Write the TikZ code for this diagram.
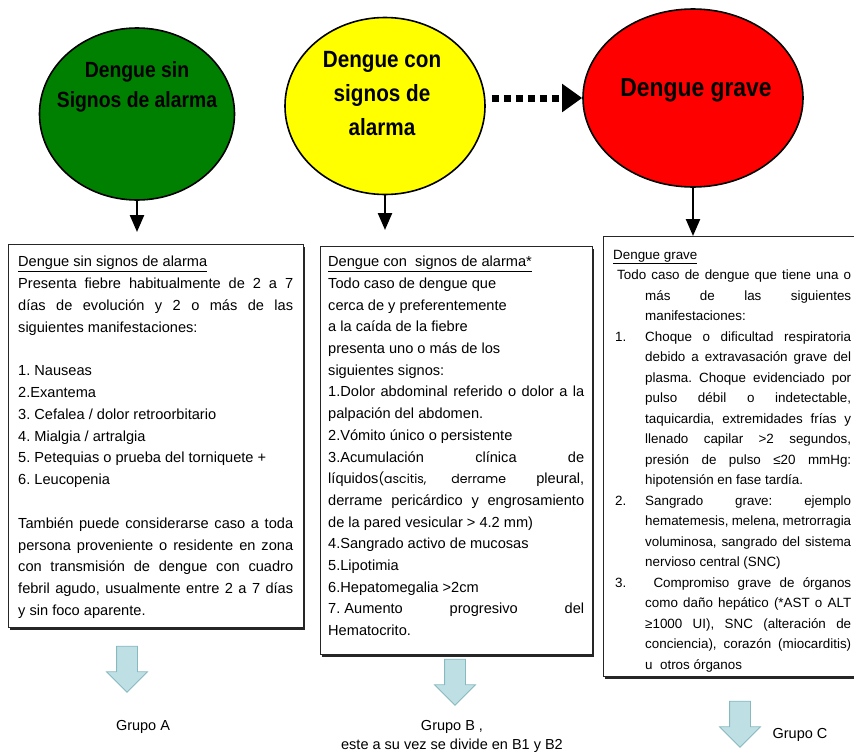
\documentclass[tikz,border=0pt]{standalone}
\usepackage{fontspec}
\setmainfont{Liberation Sans}
\newfontfamily\ovalfont[FakeStretch=0.88]{Liberation Sans}
\newfontfamily\gothfont{Poppins}
\usetikzlibrary{arrows.meta,shapes,shapes.arrows,shadows,calc}
\definecolor{semgreen}{RGB}{0,128,0}
\definecolor{semyellow}{RGB}{255,255,0}
\definecolor{semred}{RGB}{255,0,0}
\definecolor{arrowfill}{RGB}{190,224,228}
\definecolor{arrowedge}{RGB}{135,185,192}
\tikzstyle{oval}=[ellipse,draw=black,line width=1.6pt,inner sep=0pt]
\tikzstyle{ovaltext}=[align=center,inner sep=0pt]
\tikzstyle{panel}=[draw=black!85,line width=1.4pt,fill=white,anchor=north west,
    drop shadow={shadow xshift=1.5pt,shadow yshift=-2pt,fill=black!85,opacity=1}]
\tikzstyle{paneltext}=[anchor=north west,inner sep=0pt,align=justify]
\tikzstyle{down} = [draw,line width=2.4pt,-{Triangle[width=14pt,length=17pt]}]
\tikzstyle{dotarrow} = [draw,line width=7pt,dash pattern=on 7pt off 5pt,
    -{Triangle[width=27pt,length=20pt]}]
\tikzstyle{grparrow}=[single arrow,rotate=-90,draw=arrowedge,fill=arrowfill,
    line width=0.8pt,minimum height=46pt,single arrow head extend=10pt,inner sep=10pt]
\tikzstyle{grplabel}=[align=center,inner sep=0pt,font=\fontsize{14.5}{19}\selectfont]
\newcommand{\paneltxt}[2]{\fontsize{#1}{#2}\selectfont\setlength\parindent{0pt}%
    \frenchspacing\hyphenpenalty=10000\exhyphenpenalty=10000}

\begin{document}
\begin{tikzpicture}[x=1pt,y=-1pt]
    \useasboundingbox (0,0) rectangle (854,755);
    \clip (0,0) rectangle (854,755);

    % First we draw the three ovals
    \foreach \pos/\name/\col/\w/\h in {{(137,114)/sinsa/semgreen/195/172},
        {(385,106)/consa/semyellow/200/177},{(693,98)/grave/semred/220/178}}
        \node[oval,fill=\col,minimum width=\w,minimum height=\h] (\name) at \pos {};

    \node[ovaltext,font=\ovalfont\bfseries\fontsize{22}{30}\selectfont] (sinsaText) at (137,87)
        {Dengue sin\\Signos de alarma};
    \node[ovaltext,font=\ovalfont\bfseries\fontsize{23.5}{34}\selectfont] (consaText) at (382,94)
        {Dengue con\\signos de\\alarma};
    \node[ovaltext,font=\ovalfont\bfseries\fontsize{26}{30}\selectfont] (graveText) at (696,90)
        {Dengue grave};

    % Then the three boxes
    \node[panel,minimum width=295pt,minimum height=383pt] (boxA) at (8,244) {};
    \node[panel,minimum width=272pt,minimum height=408pt] (boxB) at (320,246) {};
    \node[panel,minimum width=262pt,minimum height=440pt] (boxC) at (603,236) {};

    \node[paneltext,text width=275pt,font=\paneltxt{14.6}{21.8}] (txtA) at (18,256) {%
        \underline{Dengue sin signos de alarma}\\
        Presenta fiebre habitualmente de 2 a 7\linebreak
        días de evolución y 2 o más de las\linebreak
        siguientes manifestaciones:\\[21.8pt]
        1. Nauseas\\
        2.Exantema\\
        3. Cefalea / dolor retroorbitario\\
        4. Mialgia / artralgia\\
        5. Petequias o prueba del torniquete +\\
        6. Leucopenia\\[21.8pt]
        También puede considerarse caso a toda\linebreak
        persona proveniente o residente en zona\linebreak
        con transmisión de dengue con cuadro\linebreak
        febril agudo, usualmente entre 2 a 7 días\linebreak
        y sin foco aparente.\par};

    \node[paneltext,text width=256pt,font=\paneltxt{14.6}{21.7}] (txtB) at (328,256) {%
        \underline{Dengue con\ \ signos de alarma*}\\
        Todo caso de dengue que\\
        cerca de y preferentemente\\
        a la caída de la fiebre\\
        presenta uno o más de los\\
        siguientes signos:\\
        1.Dolor abdominal referido o dolor a la\linebreak
        palpación del abdomen.\\
        2.Vómito único o persistente\\
        3.Acumulación clínica de\linebreak
        líquidos{\gothfont\fontsize{12.5}{21.7}\selectfont(ascitis, derrame} pleural,\linebreak
        derrame pericárdico y engrosamiento\linebreak
        de la pared vesicular > 4.2 mm)\\
        4.Sangrado activo de mucosas\\
        5.Lipotimia\\
        6.Hepatomegalia >2cm\\
        \mbox{7. Aumento} progresivo del\linebreak
        Hematocrito.\par};

    \node[paneltext,text width=238pt,font=\paneltxt{13.4}{20.5}] (txtC) at (613,250) {%
        \underline{Dengue grave}\par
        \hangindent=32pt\hangafter=1\hspace*{4pt}Todo caso de dengue que tiene una o\linebreak
        más de las siguientes\linebreak
        manifestaciones:\par
        \hangindent=32pt\hangafter=1\makebox[32pt][l]{\hspace*{2pt}1.}Choque o dificultad respiratoria\linebreak
        debido a extravasación grave del\linebreak
        plasma. Choque evidenciado por\linebreak
        pulso débil o indetectable,\linebreak
        taquicardia, extremidades frías y\linebreak
        llenado capilar >2 segundos,\linebreak
        presión de pulso ≤20 mmHg:\linebreak
        hipotensión en fase tardía.\par
        \hangindent=32pt\hangafter=1\makebox[32pt][l]{\hspace*{2pt}2.}Sangrado grave: ejemplo\linebreak
        hematemesis, melena, metrorragia\linebreak
        voluminosa, sangrado del sistema\linebreak
        nervioso central (SNC)\par
        \hangindent=32pt\hangafter=1\makebox[32pt][l]{\hspace*{2pt}3.}\ Compromiso grave de órganos\linebreak
        como daño hepático (*AST o ALT\linebreak
        ≥1000 UI), SNC (alteración de\linebreak
        conciencia), corazón (miocarditis)\linebreak
        u\ \ otros órganos\par};

    % Connect ovals with boxes
    \foreach \source/\dest/\gap in {sinsa/boxA/12pt, consa/boxB/16pt, grave/boxC/0pt}
        \path[down,shorten >=\gap] (\source.south) -- (\source.south |- \dest.north);
    \path[dotarrow] ([xshift=6pt]consa.east |- grave.west) -- (grave.west);

    % Group arrows and labels
    \foreach \pos/\name in {{(127,664)/grpA},{(455,677)/grpB},{(740,719)/grpC}}
        \node[grparrow] (\name) at \pos {};

    \node[grplabel] (lblA) at (143,727) {Grupo A};
    \node[grplabel] (lblB) at (452,736) {Grupo B ,\\este a su vez se divide en B1 y B2};
    \node[grplabel] (lblC) at (800,735) {Grupo C};
\end{tikzpicture}
\end{document}
